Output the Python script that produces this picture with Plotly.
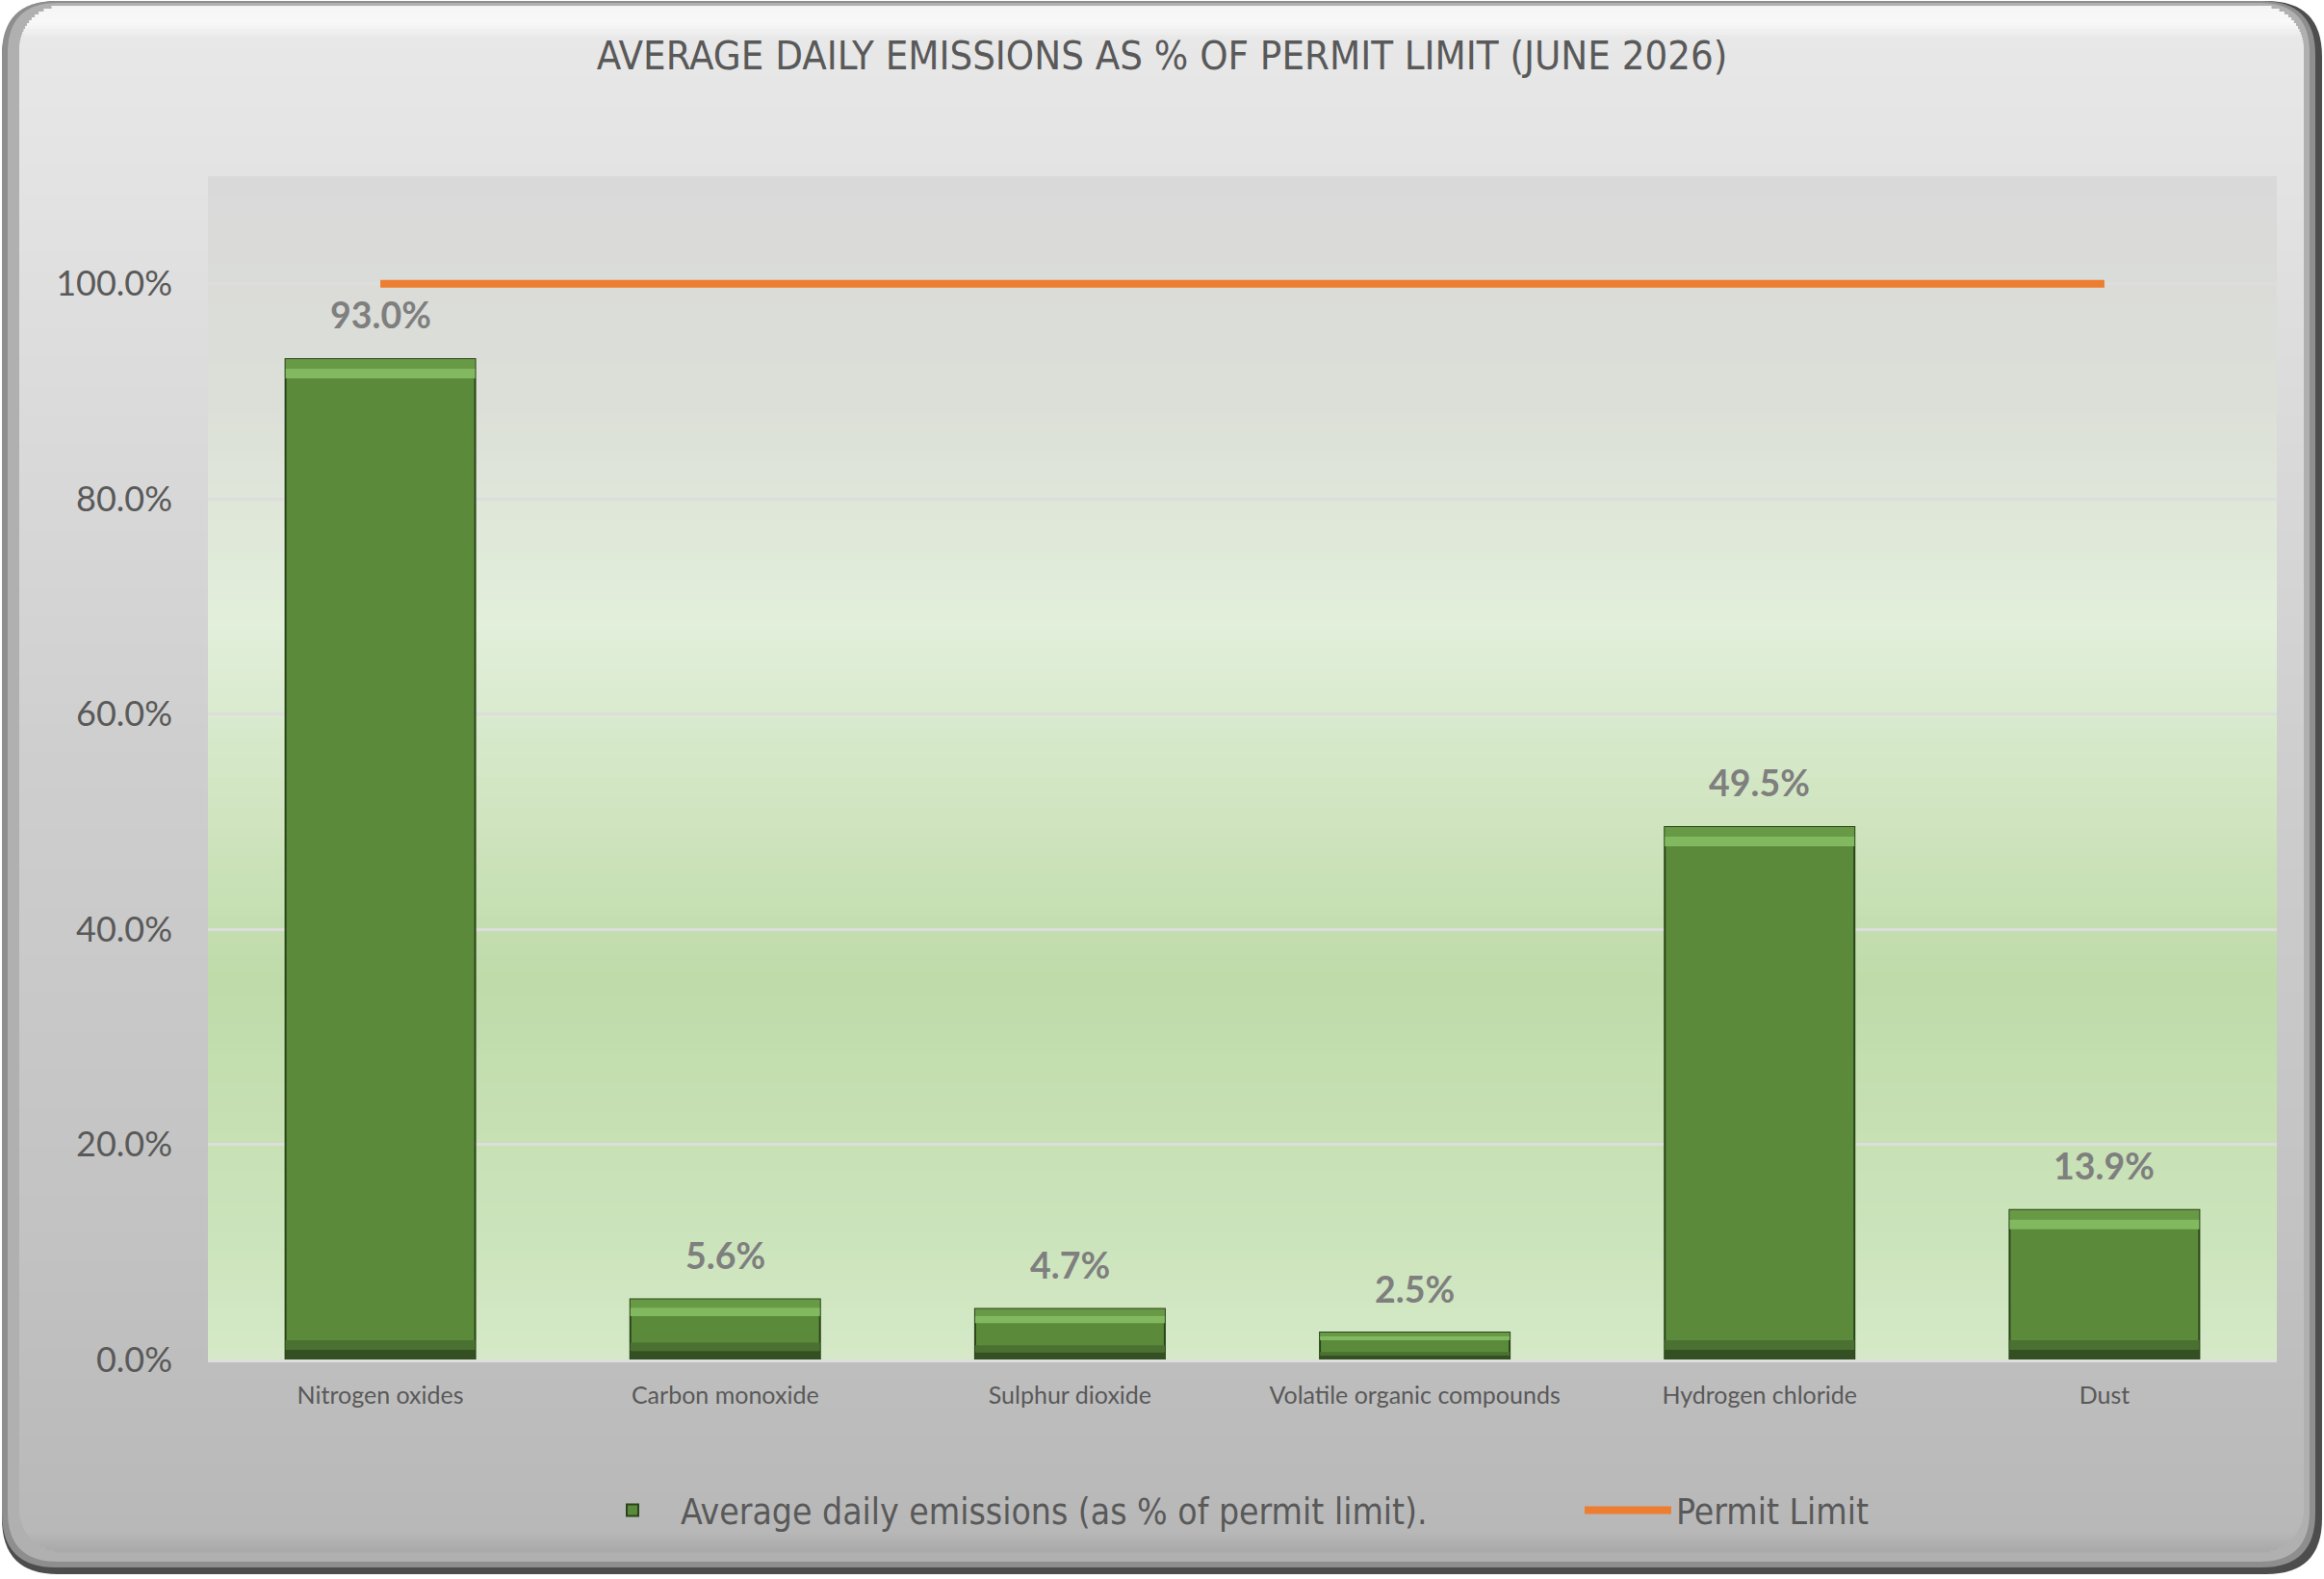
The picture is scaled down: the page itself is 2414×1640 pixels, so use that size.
import plotly.graph_objects as go

# ---------------- data ----------------
categories = ["Nitrogen oxides", "Carbon monoxide", "Sulphur dioxide",
              "Volatile organic compounds", "Hydrogen chloride", "Dust"]
emissions_pct = [93.0, 5.6, 4.7, 2.5, 49.5, 13.9]
permit_limit_pct = [100, 100, 100, 100, 100, 100]
y_tick_vals = [0, 20, 40, 60, 80, 100]
y_tick_text = ["0.0%", "20.0%", "40.0%", "60.0%", "80.0%", "100.0%"]
title_text = "AVERAGE DAILY EMISSIONS AS % OF PERMIT LIMIT (JUNE 2026)"
bar_name = "Average daily emissions (as % of permit limit)."
line_name = "Permit Limit"

# ---------------- geometry / style ----------------
W, H = 2414, 1640
ML, MR, MT, MB = 216, 49, 183, 228
PW = W - ML - MR
PH = H - MT - MB
NARROW = "Liberation Sans Narrow, Arial Narrow, DejaVu Sans Condensed, sans-serif"
BODY = "Lato, Open Sans, sans-serif"


def px(x):
    return (x - ML) / PW


def py(y):
    return (H - MB - y) / PH


def hex2rgb(h):
    h = h.lstrip("#")
    return tuple(int(h[i:i + 2], 16) for i in (0, 2, 4))


def interp(stops, t):
    for (t0, c0), (t1, c1) in zip(stops, stops[1:]):
        if t <= t1:
            f = 0 if t1 == t0 else (t - t0) / (t1 - t0)
            f = max(0, min(1, f))
            a, b = hex2rgb(c0), hex2rgb(c1)
            return "rgb(%d,%d,%d)" % tuple(round(a[i] + (b[i] - a[i]) * f) for i in range(3))
    return stops[-1][1]


def rrect(x0, y0, x1, y1, r, fill):
    p = (f"M {px(x0 + r)},{py(y0)} L {px(x1 - r)},{py(y0)} "
         f"Q {px(x1)},{py(y0)} {px(x1)},{py(y0 + r)} L {px(x1)},{py(y1 - r)} "
         f"Q {px(x1)},{py(y1)} {px(x1 - r)},{py(y1)} L {px(x0 + r)},{py(y1)} "
         f"Q {px(x0)},{py(y1)} {px(x0)},{py(y1 - r)} L {px(x0)},{py(y0 + r)} "
         f"Q {px(x0)},{py(y0)} {px(x0 + r)},{py(y0)} Z")
    return dict(type="path", path=p, xref="paper", yref="paper", layer="below",
                fillcolor=fill, line=dict(width=0))


shapes = []
# outer frame bevel
shapes.append(rrect(2, 1, 2412, 1635, 58, "#4d4d4d"))
shapes.append(rrect(2, 1, 2405, 1628, 56, "#8e8e8e"))
shapes.append(rrect(8, 3, 2399, 1622, 52, "#b0b0b0"))

# face gradient with rounded corners
face_stops = [(0, "#d8d8d8"), (8, "#f6f6f6"), (24, "#f8f8f8"), (40, "#e8e8e8"),
              (300, "#dfdfdf"), (800, "#cecece"), (1300, "#c2c2c2"),
              (1590, "#b8b8b8"), (1612, "#a9a9a9")]
FX0, FX1, FY0, FY1, FR = 20, 2393, 6, 1612, 45
y = FY0
while y < FY1:
    step = 3 if (y < FY0 + FR or y > FY1 - FR - 3) else 10
    y1 = min(y + step, FY1)
    mid = (y + y1) / 2
    inset = 0
    if mid < FY0 + FR:
        d = FY0 + FR - mid
        inset = FR - (FR ** 2 - d ** 2) ** 0.5
    elif mid > FY1 - FR:
        d = mid - (FY1 - FR)
        inset = FR - (FR ** 2 - min(d, FR) ** 2) ** 0.5
    col = interp(face_stops, mid)
    shapes.append(dict(type="rect", xref="paper", yref="paper", layer="below",
                       x0=px(FX0 + inset), x1=px(FX1 - inset), y0=py(y1 + 0.6), y1=py(y),
                       fillcolor=col, line=dict(width=0)))
    y = y1

# plot-area gradient (fraction from bottom)
plot_stops = [(0.0, "#d5e9c8"), (0.10, "#cce4bc"), (0.32, "#bfdba9"),
              (0.62, "#e2efda"), (0.81, "#dcdfd8"), (1.0, "#d9d9d9")]
N = 120
for i in range(N):
    f0, f1 = i / N, (i + 1) / N
    shapes.append(dict(type="rect", xref="paper", yref="paper", layer="below",
                       x0=0, x1=1, y0=f0, y1=min(1, f1 + 0.002),
                       fillcolor=interp(plot_stops, (f0 + f1) / 2), line=dict(width=0)))

# ---------------- traces ----------------
bevel = [min(1.8, v * 0.28) for v in emissions_pct]
half = [b / 2 for b in bevel]
fig = go.Figure()
fig.add_trace(go.Bar(x=categories, y=emissions_pct, name=bar_name, legend="legend",
                     marker=dict(color="#5b8b3a", line=dict(color="#2a4419", width=2)),
                     hoverinfo="skip"))
# top bevel highlight (two tones)
fig.add_trace(go.Bar(x=categories, y=half,
                     base=[v - b for v, b in zip(emissions_pct, half)],
                     marker=dict(color="#689a46", line=dict(width=0)),
                     showlegend=False, hoverinfo="skip"))
fig.add_trace(go.Bar(x=categories, y=half,
                     base=[v - b for v, b in zip(emissions_pct, bevel)],
                     marker=dict(color="#82b960", line=dict(width=0)),
                     showlegend=False, hoverinfo="skip"))
# bottom bevel shadow (two tones)
fig.add_trace(go.Bar(x=categories, y=half, base=half,
                     marker=dict(color="#4a7131", line=dict(width=0)),
                     showlegend=False, hoverinfo="skip"))
fig.add_trace(go.Bar(x=categories, y=half, base=[0] * len(categories),
                     marker=dict(color="#344f22", line=dict(width=0)),
                     showlegend=False, hoverinfo="skip"))
fig.add_trace(go.Scatter(x=categories, y=permit_limit_pct, mode="lines", name=line_name,
                         legend="legend2",
                         line=dict(color="#ed7d31", width=8), hoverinfo="skip"))

annotations = []
for c, v in zip(categories, emissions_pct):
    annotations.append(dict(x=c, y=v, text=f"{v:.1f}%", showarrow=False, yshift=46,
                            yanchor="middle",
                            font=dict(family=BODY, size=37.5, color="#7f7f7f", weight="bold")))

legend_font = dict(family=NARROW, size=37, color="#595959")
fig.update_layout(
    width=W, height=H,
    margin=dict(l=ML, r=MR, t=MT, b=MB),
    paper_bgcolor="white", plot_bgcolor="rgba(0,0,0,0)",
    barmode="overlay", bargap=0.45,
    shapes=shapes, annotations=annotations,
    title=dict(text=title_text, x=0.5, xanchor="center", xref="container",
               y=1 - 57 / H, yanchor="middle", yref="container",
               font=dict(family=NARROW, size=41.5, color="#595959")),
    xaxis=dict(showgrid=False, showline=True, linecolor="#dedede", linewidth=3,
               ticks="", tickfont=dict(family=BODY, size=25, color="#595959"),
               ticklabelstandoff=13, fixedrange=True),
    yaxis=dict(range=[0, 110], tickvals=y_tick_vals, ticktext=y_tick_text,
               showgrid=True, gridcolor="#dddddd", gridwidth=3, zeroline=False,
               showline=False, ticks="", ticklabelstandoff=36,
               tickfont=dict(family=BODY, size=36, color="#595959"), fixedrange=True),
    legend=dict(orientation="h", x=px(607), xanchor="left", y=py(1569), yanchor="middle",
                font=legend_font, itemwidth=90, bgcolor="rgba(0,0,0,0)"),
    legend2=dict(orientation="h", x=px(1641), xanchor="left", y=py(1569), yanchor="middle",
                 font=legend_font, itemwidth=90, bgcolor="rgba(0,0,0,0)"),
    showlegend=True,
)

fig.write_html("out.html")
